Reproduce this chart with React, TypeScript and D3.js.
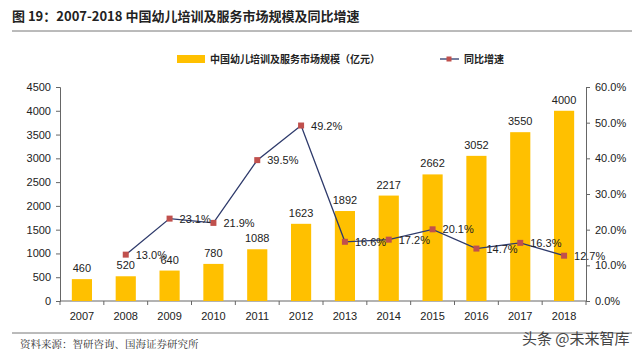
import React, { useEffect, useRef } from 'react';
import * as d3 from 'd3';

const years = ['2007', '2008', '2009', '2010', '2011', '2012', '2013', '2014', '2015', '2016', '2017', '2018'];
const marketSize = [460, 520, 640, 780, 1088, 1623, 1892, 2217, 2662, 3052, 3550, 4000];
const growthYears = ['2008', '2009', '2010', '2011', '2012', '2013', '2014', '2015', '2016', '2017', '2018'];
const growthRate = [13.0, 23.1, 21.9, 39.5, 49.2, 16.6, 17.2, 20.1, 14.7, 16.3, 12.7];
const leftTicks = [0, 500, 1000, 1500, 2000, 2500, 3000, 3500, 4000, 4500];
const rightTicks = [0, 10, 20, 30, 40, 50, 60];

export default function App() {
  const ref = useRef<SVGSVGElement>(null);
  const width = 640;
  const height = 359;
  const pad = { Top: 87, Right: 586, Bottom: 301, Left: 60 };

  useEffect(() => {
    const svg = d3.select(ref.current);
    svg.selectAll('*').remove();
    const font = 'Arial, "Liberation Sans", "Noto Sans CJK SC", sans-serif';

    // title + rules
    svg.append('text').attr('x', 12).attr('y', 21)
      .attr('font-family', '"Noto Sans CJK SC", sans-serif').attr('font-weight', 'bold')
      .attr('font-size', 13).attr('fill', '#222')
      .text('图 19：2007-2018 中国幼儿培训及服务市场规模及同比增速');
    svg.append('line').attr('x1', 12).attr('x2', 632).attr('y1', 31).attr('y2', 31)
      .attr('stroke', '#777').attr('stroke-width', 1);
    svg.append('line').attr('x1', 12).attr('x2', 632).attr('y1', 333).attr('y2', 333)
      .attr('stroke', '#777').attr('stroke-width', 1);

    // scales
    const x = d3.scaleBand().domain(years).range([pad.Left, pad.Right]).paddingInner(0.54).paddingOuter(0.27);
    const yL = d3.scaleLinear().domain([0, 4500]).range([pad.Bottom, pad.Top]);
    const yR = d3.scaleLinear().domain([0, 60]).range([pad.Bottom, pad.Top]);
    const step = (pad.Right - pad.Left) / years.length;

    // axes
    const gl = svg.append('g').attr('transform', `translate(${pad.Left},0)`)
      .call(d3.axisLeft(yL).tickValues(leftTicks).tickSize(4).tickPadding(5).tickFormat(d => `${d}`));
    const gr = svg.append('g').attr('transform', `translate(${pad.Right},0)`)
      .call(d3.axisRight(yR).tickValues(rightTicks).tickSize(4).tickPadding(5)
        .tickFormat(d => `${(+d).toFixed(1)}%`));
    [gl, gr].forEach(g => {
      g.selectAll('path').attr('stroke', '#666');
      g.selectAll('line').attr('stroke', '#666');
      g.selectAll('text').attr('font-family', font).attr('font-size', 11).attr('fill', '#222');
    });

    const gx = svg.append('g').attr('transform', `translate(0,${pad.Bottom})`);
    gx.append('line').attr('x1', pad.Left).attr('x2', pad.Right).attr('stroke', '#666');
    gx.selectAll('.tk').data(d3.range(years.length + 1)).join('line')
      .attr('x1', i => pad.Left + i * step).attr('x2', i => pad.Left + i * step)
      .attr('y1', 0).attr('y2', 4).attr('stroke', '#666');
    gx.selectAll('text').data(years).join('text')
      .attr('x', d => x(d)! + x.bandwidth() / 2).attr('y', 19)
      .attr('text-anchor', 'middle').attr('font-family', font).attr('font-size', 11).attr('fill', '#222')
      .text(d => d);

    // bars
    svg.append('g').selectAll('rect').data(marketSize).join('rect')
      .attr('x', (d, i) => x(years[i])!).attr('width', x.bandwidth())
      .attr('y', d => yL(d)).attr('height', d => pad.Bottom - yL(d))
      .attr('fill', '#FFC000');
    svg.append('g').selectAll('text').data(marketSize).join('text')
      .attr('x', (d, i) => x(years[i])! + x.bandwidth() / 2).attr('y', d => yL(d) - 7)
      .attr('text-anchor', 'middle').attr('font-family', font).attr('font-size', 11).attr('fill', '#222')
      .text(d => d);

    // line
    const cx = (i: number) => x(growthYears[i])! + x.bandwidth() / 2;
    const line = d3.line<number>().x((d, i) => cx(i)).y(d => yR(d));
    svg.append('path').datum(growthRate).attr('d', line)
      .attr('fill', 'none').attr('stroke', '#2E3A6B').attr('stroke-width', 1.3);
    svg.append('g').selectAll('rect').data(growthRate).join('rect')
      .attr('x', (d, i) => cx(i) - 3).attr('y', d => yR(d) - 3)
      .attr('width', 6).attr('height', 6).attr('fill', '#C0504D');
    svg.append('g').selectAll('text').data(growthRate).join('text')
      .attr('x', (d, i) => cx(i) + 10).attr('y', d => yR(d) + 4)
      .attr('font-family', font).attr('font-size', 11).attr('fill', '#222')
      .text(d => `${d.toFixed(1)}%`);

    // legend
    const lg = svg.append('g').attr('font-family', '"Noto Sans CJK SC", sans-serif')
      .attr('font-size', 10).attr('font-weight', 'bold').attr('fill', '#222');
    lg.append('rect').attr('x', 177).attr('y', 55).attr('width', 28).attr('height', 8).attr('fill', '#FFC000');
    lg.append('text').attr('x', 210).attr('y', 63).text('中国幼儿培训及服务市场规模（亿元）');
    lg.append('line').attr('x1', 440).attr('x2', 459).attr('y1', 59).attr('y2', 59)
      .attr('stroke', '#2E3A6B').attr('stroke-width', 1.3);
    lg.append('rect').attr('x', 446.5).attr('y', 56.5).attr('width', 5).attr('height', 5).attr('fill', '#C0504D');
    lg.append('text').attr('x', 464).attr('y', 63).text('同比增速');

    // footer
    svg.append('text').attr('x', 20).attr('y', 348)
      .attr('font-family', '"Noto Serif CJK SC", "Noto Sans CJK SC", serif').attr('font-size', 10.5).attr('fill', '#333')
      .text('资料来源：智研咨询、国海证券研究所');
    svg.append('text').attr('x', 522).attr('y', 344)
      .attr('font-family', '"Noto Sans CJK SC", sans-serif').attr('font-size', 15).attr('fill', '#444')
      .text('头条 @未来智库');
  }, []);

  return (
    <svg ref={ref} width={width} height={height}
      style={{ position: 'absolute', left: 0, top: 0, background: '#fff' }} />
  );
}
